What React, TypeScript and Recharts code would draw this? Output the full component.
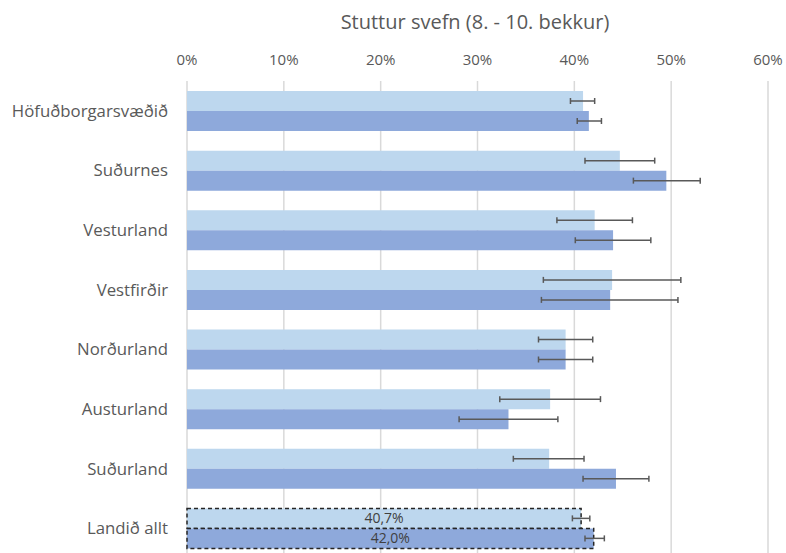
import React from 'react';
import { BarChart, Bar, XAxis, YAxis, CartesianGrid, ErrorBar, Cell, LabelList } from 'recharts';

const categories = ['Höfuðborgarsvæðið', 'Suðurnes', 'Vesturland', 'Vestfirðir', 'Norðurland', 'Austurland', 'Suðurland', 'Landið allt'];
const lightValues = [40.9, 44.7, 42.1, 43.9, 39.1, 37.5, 37.4, 40.7];
const lightLow = [39.6, 41.1, 38.2, 36.8, 36.3, 32.3, 33.7, 39.8];
const lightHigh = [42.1, 48.3, 46.0, 51.0, 41.9, 42.7, 41.0, 41.6];
const darkValues = [41.5, 49.5, 44.0, 43.7, 39.1, 33.2, 44.3, 42.0];
const darkLow = [40.3, 46.1, 40.1, 36.6, 36.3, 28.1, 40.9, 41.1];
const darkHigh = [42.8, 53.0, 47.9, 50.7, 41.9, 38.3, 47.7, 43.1];
const xTicks = [0, 10, 20, 30, 40, 50, 60];
const labelledCategory = 'Landið allt';
const title = 'Stuttur svefn (8. - 10. bekkur)';

const fmt = (v: number) => v.toFixed(1).replace('.', ',') + '%';

const data = categories.map((name, i) => ({
  name,
  light: lightValues[i],
  dark: darkValues[i],
  lightErr: [lightValues[i] - lightLow[i], lightHigh[i] - lightValues[i]],
  darkErr: [darkValues[i] - darkLow[i], darkHigh[i] - darkValues[i]],
  lightLabel: name === labelledCategory ? fmt(lightValues[i]) : undefined,
  darkLabel: name === labelledCategory ? fmt(darkValues[i]) : undefined,
}));

const FONT = "'Open Sans', 'Noto Sans', sans-serif";
const TEXT = '#595959';
const LIGHT = '#BDD7EE';
const DARK = '#8EA9DB';

export default function App() {
  return (
    <div style={{ position: 'absolute', left: 0, top: 0, width: 786, height: 553, overflow: 'hidden', fontFamily: FONT, background: '#fff' }}>
      <div
        style={{
          position: 'absolute',
          left: 0,
          width: 950,
          top: 8,
          textAlign: 'center',
          fontSize: 20,
          color: TEXT,
          fontFamily: FONT,
          lineHeight: '28px',
        }}
      >
        {title}
      </div>
      <BarChart
        width={786}
        height={570}
        data={data}
        layout="vertical"
        margin={{ top: 51, right: 18, bottom: 12, left: 0 }}
        barSize={20}
        barGap={0}
      >
        <CartesianGrid horizontal={false} vertical stroke="#D9D9D9" strokeWidth={1.5} />
        <XAxis
          type="number"
          orientation="top"
          domain={[0, 60]}
          ticks={xTicks}
          tickFormatter={(v: number) => `${v}%`}
          axisLine={false}
          tickLine={false}
          height={30}
          tickMargin={10}
          tick={{ fill: TEXT, fontSize: 15, fontFamily: FONT }}
        />
        <YAxis
          type="category"
          dataKey="name"
          width={187}
          axisLine={false}
          tickLine={false}
          tickMargin={13}
          tick={{ fill: TEXT, fontSize: 16.8, fontFamily: FONT }}
        />
        <Bar dataKey="light" fill={LIGHT} isAnimationActive={false}>
          {data.map((d) => (
            <Cell
              key={d.name}
              fill={LIGHT}
              stroke={d.name === labelledCategory ? '#262626' : 'none'}
              strokeWidth={d.name === labelledCategory ? 1.5 : 0}
              strokeDasharray={d.name === labelledCategory ? '4 3' : undefined}
            />
          ))}
          <ErrorBar dataKey="lightErr" direction="x" width={3} stroke="#595959" strokeWidth={1.5} />
          <LabelList dataKey="lightLabel" position="center" fill="#404040" fontSize={14} fontFamily={FONT} />
        </Bar>
        <Bar dataKey="dark" fill={DARK} isAnimationActive={false}>
          {data.map((d) => (
            <Cell
              key={d.name}
              fill={DARK}
              stroke={d.name === labelledCategory ? '#262626' : 'none'}
              strokeWidth={d.name === labelledCategory ? 1.5 : 0}
              strokeDasharray={d.name === labelledCategory ? '4 3' : undefined}
            />
          ))}
          <ErrorBar dataKey="darkErr" direction="x" width={3} stroke="#595959" strokeWidth={1.5} />
          <LabelList dataKey="darkLabel" position="center" fill="#404040" fontSize={14} fontFamily={FONT} />
        </Bar>
      </BarChart>
    </div>
  );
}
